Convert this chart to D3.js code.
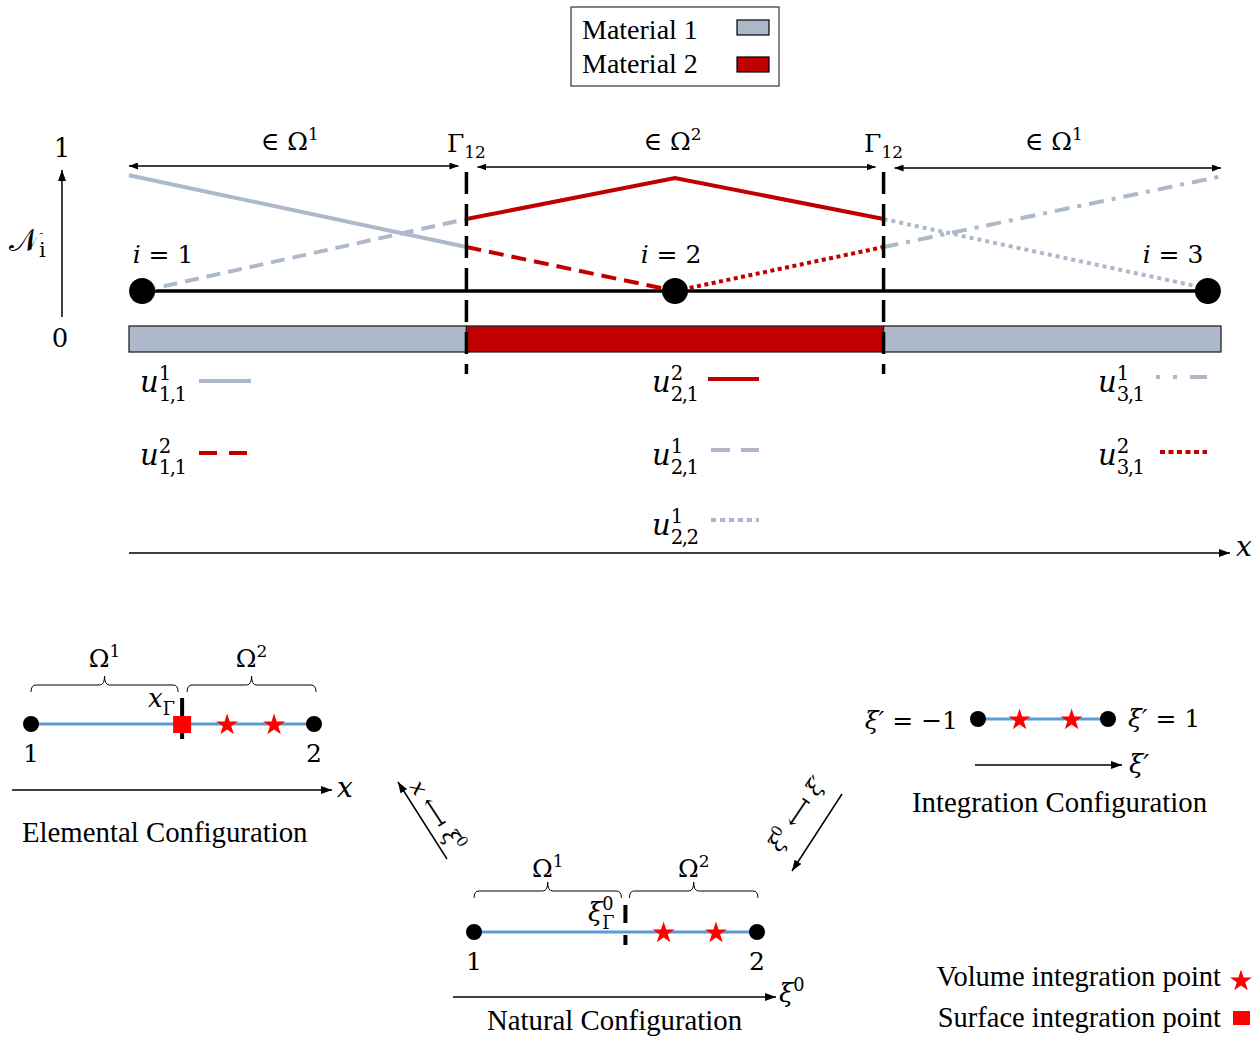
<!DOCTYPE html>
<html>
<head>
<meta charset="utf-8">
<script src="https://cdn.jsdelivr.net/npm/d3@7"></script>
<style>
  body { margin: 0; background: #fff; }
  svg { display: block; }
  text { white-space: pre; fill: #000; }
</style>
</head>
<body>
<script>
// ---------- data ----------
// 1D bar with three nodes, two material interfaces (Gamma_12)
const nodeX = [0.012, 0.5, 0.988];
const nodeIndex = [1, 2, 3];
const interfaceX = [0.309, 0.691];
const materialEdges = [0, 0.309, 0.691, 1];
const materialIds = [1, 2, 1];
const materialNames = ["Material 1", "Material 2"];
const yTicks = [0, 1];

// enriched shape functions u^{sup}_{sub}: polyline points (x, N)
const shapeSup = [1, 2, 2, 1, 1, 1, 2];
const shapeSub = ["1,1", "1,1", "2,1", "2,1", "2,2", "3,1", "3,1"];
const shapePoints = [
  [[0, 0.99], [0.309, 0.376]],
  [[0.309, 0.376], [0.5, 0]],
  [[0.309, 0.615], [0.5, 0.966], [0.691, 0.615]],
  [[0.012, 0], [0.309, 0.615]],
  [[0.691, 0.615], [0.988, 0.02]],
  [[0.691, 0.376], [1, 0.98]],
  [[0.5, 0], [0.691, 0.376]]
];

// cut element in its three configurations
const elemInterface = 0.534;
const elemVolumePts = [0.693, 0.859];
const natInterface = 0.535;
const natVolumePts = [0.67, 0.855];
const intVolumePts = [-0.36, 0.44];

// ---------- styles ----------
const matColor = { 1: "#ADB9CA", 2: "#C00000" };
const shapeDash = [null, "15,8", null, "14,8", "4,4", "15,8,4,8", "4,3.5"];
const legendDash = [null, "18,12", null, "19,11", "5,4", "4,13,4,13,17,60", "5,3.5"];
const blue = "#5B9BD5";
const pointRed = "#FF0000";
const MATH = "'DejaVu Serif', serif";
const TIMES = "'Liberation Serif', 'Times New Roman', serif";
const CAPTION = 28.8;

const W = 1260, H = 1038;
const svg = d3.select("body").append("svg").attr("width", W).attr("height", H);

// arrowheads
const defs = svg.append("defs");
function arrowMarker(id, len, wid) {
  defs.append("marker")
    .attr("id", id).attr("viewBox", `0 0 ${len} ${wid}`)
    .attr("refX", len).attr("refY", wid / 2)
    .attr("markerWidth", len).attr("markerHeight", wid)
    .attr("markerUnits", "userSpaceOnUse")
    .attr("orient", "auto-start-reverse")
    .append("path").attr("d", `M0,0L${len},${wid / 2}L0,${wid}Z`).attr("fill", "#000");
}
arrowMarker("ah", 11, 8);
arrowMarker("ahs", 9, 7);

// math-ish label made of base runs and stacked super/subscripts
function mathLabel(parent, x, y, parts, size, opts = {}) {
  const family = opts.family || MATH;
  const anchor = opts.anchor || "start";
  const g = parent.append("g").attr("font-family", family);
  const inner = g.append("g");
  let cx = 0;
  parts.forEach(p => {
    if (p.sup !== undefined || p.sub !== undefined) {
      let w = 0;
      const ss = size * 0.68;
      if (p.sup !== undefined) {
        const t = inner.append("text").attr("x", cx).attr("y", -size * 0.42)
          .attr("font-size", ss).text(p.sup);
        w = Math.max(w, t.node().getComputedTextLength());
      }
      if (p.sub !== undefined) {
        const t = inner.append("text").attr("x", cx).attr("y", size * (p.low || 0.3))
          .attr("font-size", ss).attr("letter-spacing", p.tight ? -1.5 : 0)
          .text(p.sub);
        w = Math.max(w, t.node().getComputedTextLength());
      }
      cx += w;
    } else {
      const t = inner.append("text").attr("x", cx).attr("y", 0)
        .attr("font-size", size).attr("font-style", p.i ? "italic" : "normal").text(p.t);
      cx += t.node().getComputedTextLength();
    }
  });
  const dx = anchor === "middle" ? -cx / 2 : anchor === "end" ? -cx : 0;
  inner.attr("transform", `translate(${dx},0)`);
  g.attr("transform", `translate(${x},${y})` + (opts.rotate ? ` rotate(${opts.rotate})` : ""));
  return g;
}

// curly brace opening downward
function brace(g, x1, x2, yEnd) {
  const ym = yEnd - 7, yt = yEnd - 16, xm = (x1 + x2) / 2;
  g.append("path")
    .attr("d", `M${x1},${yEnd}Q${x1},${ym} ${x1 + 5},${ym}L${xm - 5},${ym}Q${xm},${ym} ${xm},${yt}` +
      `Q${xm},${ym} ${xm + 5},${ym}L${x2 - 5},${ym}Q${x2},${ym} ${x2},${yEnd}`)
    .attr("fill", "none").attr("stroke", "#000").attr("stroke-width", 1);
}

// ---------- material legend ----------
const leg = svg.append("g");
leg.append("rect").attr("x", 571).attr("y", 7).attr("width", 208).attr("height", 79)
  .attr("fill", "#fff").attr("stroke", "#333").attr("stroke-width", 1.2);
materialNames.forEach((name, k) => {
  leg.append("text").attr("x", 582).attr("y", 39 + k * 33.5)
    .attr("font-family", TIMES).attr("font-size", 28).text(name);
  leg.append("rect").attr("x", 737).attr("y", 20 + k * 37).attr("width", 32).attr("height", 15)
    .attr("fill", matColor[k + 1]).attr("stroke", "#000").attr("stroke-width", 1.2);
});

// ---------- top: shape functions over the bar ----------
const X = d3.scaleLinear().domain([0, 1]).range([129, 1221]);
const Y = d3.scaleLinear().domain([0, 1]).range([291, 174]);
const tickY = d3.scaleLinear().domain([0, 1]).range([347, 157]);
const topG = svg.append("g");

// vertical N axis
topG.append("line").attr("x1", 62).attr("x2", 62).attr("y1", 317).attr("y2", 170)
  .attr("stroke", "#000").attr("stroke-width", 1.5).attr("marker-end", "url(#ah)");
topG.selectAll(".ytick").data(yTicks).join("text")
  .attr("x", d => d === 1 ? 62 : 60).attr("y", d => tickY(d))
  .attr("text-anchor", "middle").attr("font-family", MATH).attr("font-size", 26)
  .text(d => d);
mathLabel(topG, 9, 251, [{ t: "\u{1D4A9}" }, { sub: "i", low: 0.2 }], 31);

// region arrows and labels
const gap = 9;
for (let k = 0; k < 3; k++) {
  const a = X(materialEdges[k]) + (k > 0 ? gap + 2 : 0);
  const b = X(materialEdges[k + 1]) - (k < 2 ? gap - 1 : 0);
  const yy = 166 + k;
  topG.append("line").attr("x1", a).attr("x2", b).attr("y1", yy).attr("y2", yy)
    .attr("stroke", "#000").attr("stroke-width", 1.3)
    .attr("marker-start", "url(#ahs)").attr("marker-end", "url(#ahs)");
  mathLabel(topG, (a + b) / 2 - 4, 150, [{ t: "\u2208 \u03A9" }, { sup: String(materialIds[k]) }], 25, { anchor: "middle" });
}
interfaceX.forEach(ix => {
  mathLabel(topG, X(ix), 152, [{ t: "\u0393" }, { sub: "12", low: 0.24 }], 25, { anchor: "middle" });
});

// material bar
for (let k = 0; k < 3; k++) {
  topG.append("rect")
    .attr("x", X(materialEdges[k])).attr("y", 326)
    .attr("width", X(materialEdges[k + 1]) - X(materialEdges[k])).attr("height", 26)
    .attr("fill", matColor[materialIds[k]]).attr("stroke", "#222").attr("stroke-width", 1.3);
}

// mesh line
topG.append("line").attr("x1", X(nodeX[0])).attr("x2", X(nodeX[2])).attr("y1", Y(0)).attr("y2", Y(0))
  .attr("stroke", "#000").attr("stroke-width", 3.5);

// shape functions
const line = d3.line().x(d => X(d[0])).y(d => Y(d[1]));
shapePoints.forEach((pts, k) => {
  topG.append("path").attr("d", line(pts)).attr("fill", "none")
    .attr("stroke", matColor[shapeSup[k]]).attr("stroke-width", 4)
    .attr("stroke-dasharray", shapeDash[k]);
});

// interface dashed lines
interfaceX.forEach(ix => {
  topG.append("line").attr("x1", X(ix)).attr("x2", X(ix)).attr("y1", 172).attr("y2", 374)
    .attr("stroke", "#000").attr("stroke-width", 3.5).attr("stroke-dasharray", "22,10");
});

// nodes
topG.selectAll(".node").data(nodeX).join("circle")
  .attr("cx", d => X(d)).attr("cy", Y(0)).attr("r", 13).attr("fill", "#000");
const nodeLabelX = [163, 671, 1173];
nodeIndex.forEach((n, k) => {
  mathLabel(topG, nodeLabelX[k], 263, [{ t: "i", i: true }, { t: " = " + n }], 25, { anchor: "middle" });
});

// shape function legend
const legPos = [[140, 392], [140, 465], [652, 392], [652, 465], [652, 535], [1098, 392], [1098, 465]];
const legLine = [[199, 251, 381], [199, 247, 453], [708, 759, 379], [711, 759, 450], [711, 759, 520], [1156, 1207, 377], [1160, 1207, 452]];
shapeSup.forEach((s, k) => {
  mathLabel(topG, legPos[k][0], legPos[k][1], [{ t: "u", i: true }, { sup: String(s), sub: shapeSub[k], tight: true }], 29);
  topG.append("line").attr("x1", legLine[k][0]).attr("x2", legLine[k][1])
    .attr("y1", legLine[k][2]).attr("y2", legLine[k][2])
    .attr("stroke", matColor[s]).attr("stroke-width", 4)
    .attr("stroke-dasharray", legendDash[k]);
});

// x axis
topG.append("line").attr("x1", X(0)).attr("x2", 1230).attr("y1", 553).attr("y2", 553)
  .attr("stroke", "#000").attr("stroke-width", 1.5).attr("marker-end", "url(#ah)");
mathLabel(topG, 1236, 556, [{ t: "x", i: true }], 28);

// ---------- bottom: element configurations ----------
const star = d3.symbol().type(d3.symbolStar).size(150);
function drawPoints(g, xs, scale, y) {
  g.selectAll(null).data(xs).join("path")
    .attr("d", star).attr("transform", d => `translate(${scale(d)},${y + 1})`)
    .attr("fill", pointRed);
}

// Elemental configuration
const XE = d3.scaleLinear().domain([0, 1]).range([31, 314]);
const el = svg.append("g");
const yE = 724;
brace(el, XE(0), XE(elemInterface) - 4, 692);
brace(el, XE(elemInterface) + 5, XE(1) + 2, 692);
mathLabel(el, (XE(0) + XE(elemInterface) - 4) / 2, 667, [{ t: "\u03A9" }, { sup: "1" }], 25, { anchor: "middle" });
mathLabel(el, (XE(elemInterface) + 5 + XE(1) + 2) / 2, 667, [{ t: "\u03A9" }, { sup: "2" }], 25, { anchor: "middle" });
el.append("line").attr("x1", XE(0)).attr("x2", XE(1)).attr("y1", yE).attr("y2", yE)
  .attr("stroke", blue).attr("stroke-width", 3);
el.append("line").attr("x1", XE(elemInterface)).attr("x2", XE(elemInterface)).attr("y1", 698).attr("y2", 739)
  .attr("stroke", "#000").attr("stroke-width", 4);
el.append("rect").attr("x", XE(elemInterface) - 9).attr("y", yE - 8).attr("width", 18).attr("height", 17)
  .attr("fill", pointRed);
drawPoints(el, elemVolumePts, XE, yE);
el.selectAll("circle").data([0, 1]).join("circle")
  .attr("cx", d => XE(d)).attr("cy", yE).attr("r", 8).attr("fill", "#000");
mathLabel(el, 148, 707, [{ t: "x", i: true }, { sub: "\u0393" }], 26);
[0, 1].forEach((d, k) => el.append("text").attr("x", XE(d)).attr("y", 762)
  .attr("text-anchor", "middle").attr("font-family", MATH).attr("font-size", 25).text(k + 1));
el.append("line").attr("x1", 12).attr("x2", 332).attr("y1", 790).attr("y2", 790)
  .attr("stroke", "#000").attr("stroke-width", 1.5).attr("marker-end", "url(#ah)");
mathLabel(el, 337, 797, [{ t: "x", i: true }], 28);
el.append("text").attr("x", 22).attr("y", 842).attr("font-family", TIMES).attr("font-size", CAPTION)
  .text("Elemental Configuration");

// Natural configuration
const XN = d3.scaleLinear().domain([0, 1]).range([474, 757]);
const nat = svg.append("g");
const yN = 932;
brace(nat, XN(0), XN(natInterface) - 4, 898);
brace(nat, XN(natInterface) + 4, XN(1) + 1, 898);
mathLabel(nat, (XN(0) + XN(natInterface) - 4) / 2, 877, [{ t: "\u03A9" }, { sup: "1" }], 25, { anchor: "middle" });
mathLabel(nat, (XN(natInterface) + 4 + XN(1) + 1) / 2, 877, [{ t: "\u03A9" }, { sup: "2" }], 25, { anchor: "middle" });
nat.append("line").attr("x1", XN(0)).attr("x2", XN(1)).attr("y1", yN).attr("y2", yN)
  .attr("stroke", blue).attr("stroke-width", 3);
nat.append("line").attr("x1", XN(natInterface)).attr("x2", XN(natInterface)).attr("y1", 905).attr("y2", 945)
  .attr("stroke", "#000").attr("stroke-width", 4).attr("stroke-dasharray", "18,12");
drawPoints(nat, natVolumePts, XN, yN);
nat.selectAll("circle").data([0, 1]).join("circle")
  .attr("cx", d => XN(d)).attr("cy", yN).attr("r", 8).attr("fill", "#000");
mathLabel(nat, 588, 921, [{ t: "\u03BE", i: true }, { sup: "0", sub: "\u0393" }], 26);
[0, 1].forEach((d, k) => nat.append("text").attr("x", XN(d)).attr("y", 970)
  .attr("text-anchor", "middle").attr("font-family", MATH).attr("font-size", 25).text(k + 1));
nat.append("line").attr("x1", 453).attr("x2", 776).attr("y1", 997).attr("y2", 997)
  .attr("stroke", "#000").attr("stroke-width", 1.5).attr("marker-end", "url(#ah)");
mathLabel(nat, 779, 1002, [{ t: "\u03BE", i: true }, { sup: "0" }], 26);
nat.append("text").attr("x", 487).attr("y", 1030).attr("font-family", TIMES).attr("font-size", CAPTION)
  .text("Natural Configuration");

// Integration configuration
const XI = d3.scaleLinear().domain([-1, 1]).range([978, 1108]);
const ig = svg.append("g");
const yI = 719;
ig.append("line").attr("x1", XI(-1)).attr("x2", XI(1)).attr("y1", yI).attr("y2", yI)
  .attr("stroke", blue).attr("stroke-width", 3);
drawPoints(ig, intVolumePts, XI, yI);
ig.selectAll("circle").data([-1, 1]).join("circle")
  .attr("cx", d => XI(d)).attr("cy", yI).attr("r", 8).attr("fill", "#000");
mathLabel(ig, 958, 729, [{ t: "\u03BE\u2032", i: true }, { t: " = \u22121" }], 25, { anchor: "end" });
mathLabel(ig, 1128, 727, [{ t: "\u03BE\u2032", i: true }, { t: " = 1" }], 25);
ig.append("line").attr("x1", 975).attr("x2", 1122).attr("y1", 765).attr("y2", 765)
  .attr("stroke", "#000").attr("stroke-width", 1.5).attr("marker-end", "url(#ah)");
mathLabel(ig, 1129, 773, [{ t: "\u03BE\u2032", i: true }], 26);
ig.append("text").attr("x", 912).attr("y", 812).attr("font-family", TIMES).attr("font-size", CAPTION)
  .text("Integration Configuration");

// mappings between configurations
const maps = svg.append("g");
maps.append("line").attr("x1", 447).attr("y1", 859).attr("x2", 398).attr("y2", 782)
  .attr("stroke", "#000").attr("stroke-width", 1.5).attr("marker-end", "url(#ah)");
maps.append("line").attr("x1", 842).attr("y1", 794).attr("x2", 792).attr("y2", 871)
  .attr("stroke", "#000").attr("stroke-width", 1.5).attr("marker-end", "url(#ah)");
mathLabel(maps, 431, 820, [{ t: "x", i: true }, { t: " \u27FB " }, { t: "\u03BE", i: true }, { sup: "0" }], 22, { anchor: "middle", rotate: 57 });
mathLabel(maps, 803, 818, [{ t: "\u03BE", i: true }, { sup: "0" }, { t: " \u27FB " }, { t: "\u03BE\u2032", i: true }], 22, { anchor: "middle", rotate: -56 });

// integration point legend
const pl = svg.append("g");
pl.append("text").attr("x", 1221).attr("y", 986).attr("text-anchor", "end")
  .attr("font-family", TIMES).attr("font-size", 28.5).text("Volume integration point");
pl.append("path").attr("d", star).attr("transform", "translate(1241,981)").attr("fill", pointRed);
pl.append("text").attr("x", 1221).attr("y", 1027).attr("text-anchor", "end")
  .attr("font-family", TIMES).attr("font-size", 28.5).text("Surface integration point");
pl.append("rect").attr("x", 1233).attr("y", 1011).attr("width", 17).attr("height", 14).attr("fill", pointRed);
</script>
</body>
</html>
